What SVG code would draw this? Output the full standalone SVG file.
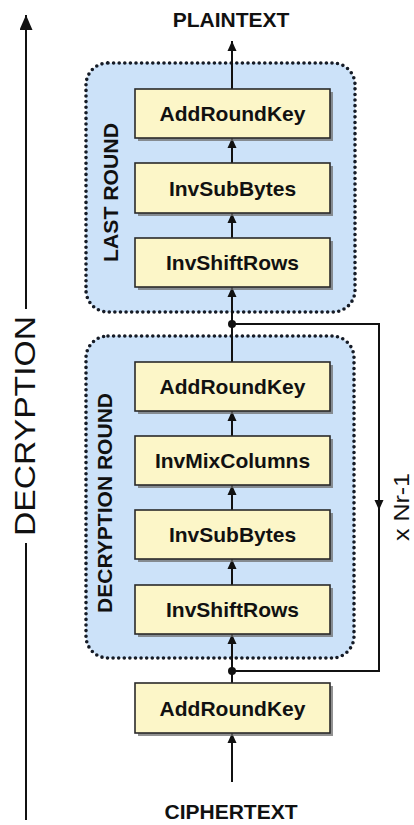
<svg xmlns="http://www.w3.org/2000/svg" width="414" height="825" viewBox="0 0 414 825">
<defs>
<marker id="ah" viewBox="0 0 10 10" refX="10" refY="5" markerWidth="10" markerHeight="10" markerUnits="userSpaceOnUse" orient="auto">
<path d="M0,0.5 L10,5 L0,9.5 Z" fill="#111"/>
</marker>
<marker id="ahBig" viewBox="0 0 15 13" refX="15" refY="6.5" markerWidth="15" markerHeight="13" markerUnits="userSpaceOnUse" orient="auto">
<path d="M0,0 L15,6.5 L0,13 Z" fill="#111"/>
</marker>
</defs>
<style>
.round{fill:#cce2f9;stroke:#151b26;stroke-width:3.6;stroke-dasharray:0 5.6;stroke-linecap:round}
.shadow{fill:#6d6d6d;opacity:0.75}
.box{fill:#fcf6c8;stroke:#2a2a2a;stroke-width:1.6}
.lbl{font-family:"Liberation Sans",Arial,sans-serif;font-weight:bold;font-size:21px;fill:#111;text-anchor:middle}
.side{font-family:"Liberation Sans",Arial,sans-serif;font-weight:bold;font-size:21px;fill:#111;text-anchor:middle}
.big{font-family:"Liberation Sans",Arial,sans-serif;font-size:29px;fill:#111;text-anchor:middle}
.conn{stroke:#111;stroke-width:2;fill:none}
</style>
<rect width="414" height="825" fill="#ffffff"/>

<g id="last-round">
<rect class="round" x="86" y="63" width="269" height="249" rx="22"/>
<text class="side" transform="translate(118,192.5) rotate(-90)" textLength="139" lengthAdjust="spacingAndGlyphs">LAST ROUND</text>
</g>
<g id="decryption-round">
<rect class="round" x="86" y="336" width="268" height="322" rx="22"/>
<text class="side" transform="translate(112,503) rotate(-90)" textLength="220" lengthAdjust="spacingAndGlyphs">DECRYPTION ROUND</text>
</g>

<g id="connectors">
<line class="conn" x1="26" y1="309" x2="26" y2="15" marker-end="url(#ahBig)"/>
<line class="conn" x1="26" y1="543" x2="26" y2="820"/>
<line class="conn" x1="232" y1="89" x2="232" y2="41" marker-end="url(#ah)"/>
<line class="conn" x1="232" y1="163" x2="232" y2="138" marker-end="url(#ah)"/>
<line class="conn" x1="232" y1="238" x2="232" y2="213" marker-end="url(#ah)"/>
<line class="conn" x1="232" y1="324" x2="232" y2="287" marker-end="url(#ah)"/>
<line class="conn" x1="232" y1="362" x2="232" y2="324"/>
<line class="conn" x1="232" y1="436" x2="232" y2="411" marker-end="url(#ah)"/>
<line class="conn" x1="232" y1="510" x2="232" y2="485" marker-end="url(#ah)"/>
<line class="conn" x1="232" y1="585" x2="232" y2="559" marker-end="url(#ah)"/>
<line class="conn" x1="232" y1="671" x2="232" y2="634" marker-end="url(#ah)"/>
<line class="conn" x1="232" y1="683" x2="232" y2="671"/>
<line class="conn" x1="232" y1="782" x2="232" y2="733" marker-end="url(#ah)"/>
<polyline class="conn" points="232,324 379,324 379,671 232,671"/>
<line class="conn" x1="379" y1="480" x2="379" y2="510" marker-end="url(#ah)"/>
<circle cx="232" cy="324" r="4" fill="#111"/>
<circle cx="232" cy="671" r="4" fill="#111"/>
</g>

<g id="lr-addroundkey">
<rect class="shadow" x="138" y="92" width="195" height="49"/>
<rect class="box" x="135" y="89" width="195" height="49"/>
<text class="lbl" x="232.5" y="121">AddRoundKey</text>
</g>
<g id="lr-invsubbytes">
<rect class="shadow" x="138" y="166" width="195" height="50"/>
<rect class="box" x="135" y="163" width="195" height="50"/>
<text class="lbl" x="232.5" y="196">InvSubBytes</text>
</g>
<g id="lr-invshiftrows">
<rect class="shadow" x="138" y="241" width="195" height="49"/>
<rect class="box" x="135" y="238" width="195" height="49"/>
<text class="lbl" x="232.5" y="270">InvShiftRows</text>
</g>

<g id="dr-addroundkey">
<rect class="shadow" x="138" y="365" width="195" height="49"/>
<rect class="box" x="135" y="362" width="195" height="49"/>
<text class="lbl" x="232.5" y="394">AddRoundKey</text>
</g>
<g id="dr-invmixcolumns">
<rect class="shadow" x="138" y="439" width="195" height="49"/>
<rect class="box" x="135" y="436" width="195" height="49"/>
<text class="lbl" x="232.5" y="468">InvMixColumns</text>
</g>
<g id="dr-invsubbytes">
<rect class="shadow" x="138" y="513" width="195" height="49"/>
<rect class="box" x="135" y="510" width="195" height="49"/>
<text class="lbl" x="232.5" y="542">InvSubBytes</text>
</g>
<g id="dr-invshiftrows">
<rect class="shadow" x="138" y="588" width="195" height="49"/>
<rect class="box" x="135" y="585" width="195" height="49"/>
<text class="lbl" x="232.5" y="617">InvShiftRows</text>
</g>

<g id="initial-addroundkey">
<rect class="shadow" x="138" y="686" width="195" height="50"/>
<rect class="box" x="135" y="683" width="195" height="50"/>
<text class="lbl" x="232.5" y="716">AddRoundKey</text>
</g>

<g id="plaintext">
<text class="lbl" x="231" y="27">PLAINTEXT</text>
</g>
<g id="ciphertext">
<text class="lbl" x="231" y="819">CIPHERTEXT</text>
</g>
<g id="decryption-label">
<text class="big" transform="translate(35,426) rotate(-90)" textLength="220" lengthAdjust="spacingAndGlyphs">DECRYPTION</text>
</g>
<g id="repeat-label">
<text class="big" style="font-size:22px" transform="translate(409,507) rotate(-90)" textLength="68" lengthAdjust="spacingAndGlyphs">x Nr-1</text>
</g>
</svg>
